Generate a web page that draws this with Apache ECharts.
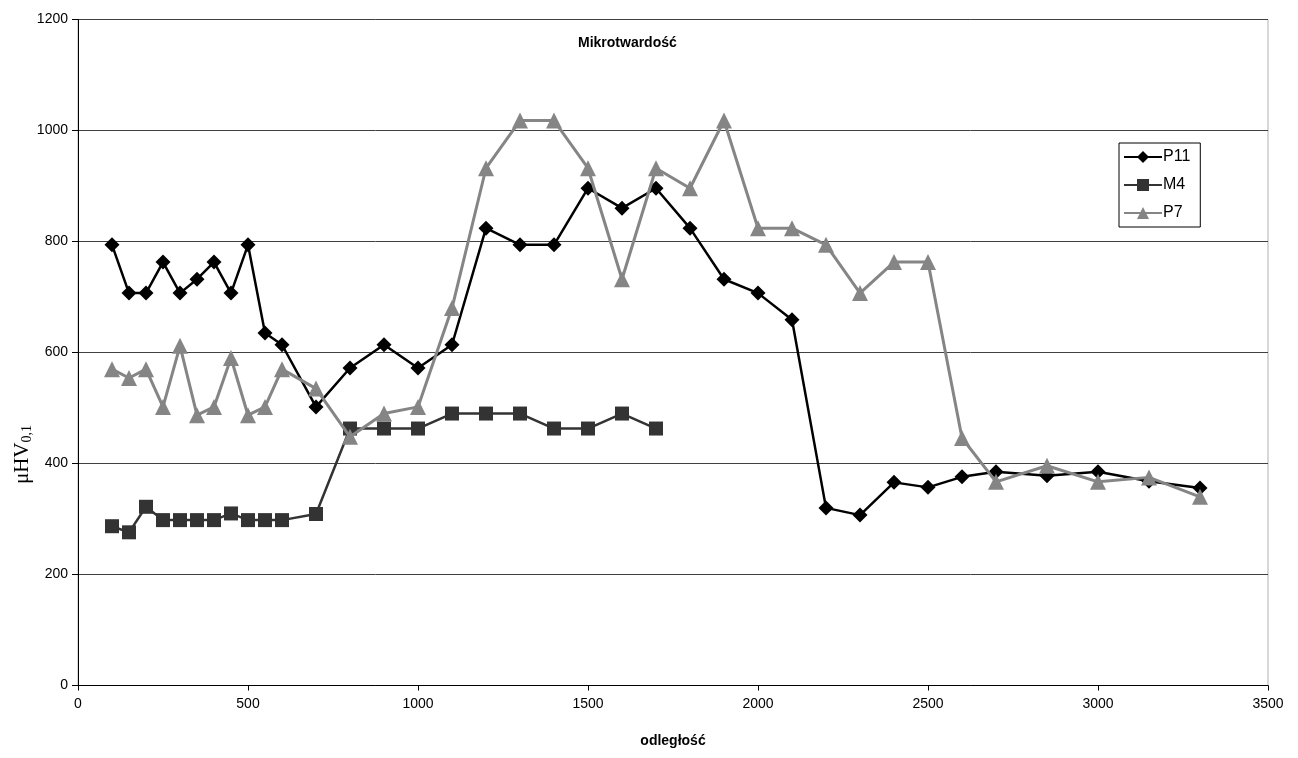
<!DOCTYPE html>
<html><head><meta charset="utf-8">
<script src="https://cdn.jsdelivr.net/npm/echarts@6/dist/echarts.min.js"></script>
<style>html,body{margin:0;padding:0;background:#fff}#c{width:1298px;height:758px}</style>
</head><body><div id="c"></div>
<script>
const xP11 = [100,150,200,250,300,350,400,450,500,550,600,700,800,900,1000,1100,1200,1300,1400,1500,1600,1700,1800,1900,2000,2100,2200,2300,2400,2500,2600,2700,2850,3000,3150,3300];
const yP11 = [794,707,707,763,707,732,763,707,794,635,614,502,572,614,572,614,824,794,794,896,860,896,824,732,707,659,320,307,366,357,376,385,378,385,368,356];
const xM4 = [100,150,200,250,300,350,400,450,500,550,600,700,800,900,1000,1100,1200,1300,1400,1500,1600,1700];
const yM4 = [287,276,322,298,298,298,298,310,298,298,298,309,463,463,463,490,490,490,463,463,490,463];
const xP7 = [100,150,200,250,300,350,400,450,500,550,600,700,800,900,1000,1100,1200,1300,1400,1500,1600,1700,1800,1900,2000,2100,2200,2300,2400,2500,2600,2700,2850,3000,3150,3300];
const yP7 = [570,554,570,502,612,487,502,590,487,502,570,535,448,490,502,680,932,1018,1018,932,732,932,896,1018,824,824,794,707,763,763,446,367,396,367,375,340];
const xTicks = [0,500,1000,1500,2000,2500,3000,3500];
const yTicks = [0,200,400,600,800,1000,1200];

const F = "'Liberation Sans Narrow','Arial Narrow','Liberation Sans',Arial,sans-serif";
const pair = (xs, ys) => xs.map((x,i)=>[x, ys[i]]);

const chart = echarts.init(document.getElementById('c'), null, {renderer:'canvas'});
chart.setOption({
  animation:false,
  backgroundColor:'#fff',
  grid:{left:78,right:30,top:19.5,bottom:72.5,show:true,borderColor:'#b0b0b0',borderWidth:1,containLabel:false},
  title:{text:'Mikrotwardość',left:573,top:31,textStyle:{fontFamily:'Liberation Sans, Arial',fontWeight:'bold',fontSize:14,color:'#000'}},
  legend:{orient:'vertical',left:1119,top:143,width:80,height:82,padding:[6,10,6,4],itemGap:12,itemWidth:38,itemHeight:15,
    backgroundColor:'#fff',borderColor:'#000',borderWidth:1,
    textStyle:{fontFamily:F,fontSize:16,color:'#000',padding:[0,0,0,-4]},
    data:['P11','M4','P7']},
  xAxis:{type:'value',min:xTicks[0],max:xTicks[xTicks.length-1],interval:500,
    name:'odległość',nameLocation:'middle',nameGap:49,
    nameTextStyle:{fontFamily:'Liberation Sans, Arial',fontWeight:'bold',fontSize:14,color:'#000'},
    axisLine:{show:true,lineStyle:{color:'#000',width:1}},
    axisTick:{show:true,inside:false,length:5,lineStyle:{color:'#000'}},
    axisLabel:{fontFamily:F,fontSize:14,color:'#000',margin:12,formatter:v=>String(v)},
    splitLine:{show:false}},
  yAxis:{type:'value',min:yTicks[0],max:yTicks[yTicks.length-1],interval:200,
    axisLine:{show:true,lineStyle:{color:'#000',width:1}},
    axisTick:{show:true,inside:false,length:6,lineStyle:{color:'#000'}},
    axisLabel:{fontFamily:F,fontSize:14,color:'#000',margin:10,formatter:v=>String(v)},
    splitLine:{show:true,lineStyle:{color:'#404040',width:1}}},
  graphic:[{type:'text',left:12,top:425,rotation:Math.PI/2,
    style:{rich:{a:{fontFamily:"'Liberation Serif','Times New Roman',serif",fontSize:21,fill:'#000'},
                 b:{fontFamily:"'Liberation Serif','Times New Roman',serif",fontSize:14,fill:'#000',padding:[10,0,0,0]}},
           text:'{a|μHV}{b|0,1}'}}],
  series:[
    {name:'P11',type:'line',data:pair(xP11,yP11),symbol:'diamond',symbolSize:15,
      lineStyle:{color:'#000',width:2.5},itemStyle:{color:'#000'},z:3},
    {name:'M4',type:'line',data:pair(xM4,yM4),symbol:'rect',symbolSize:14,
      lineStyle:{color:'#333',width:2.5},itemStyle:{color:'#333'},z:4},
    {name:'P7',type:'line',data:pair(xP7,yP7),symbol:'triangle',symbolSize:16,
      lineStyle:{color:'#858585',width:3},itemStyle:{color:'#858585'},z:5}
  ]
});
</script></body></html>
